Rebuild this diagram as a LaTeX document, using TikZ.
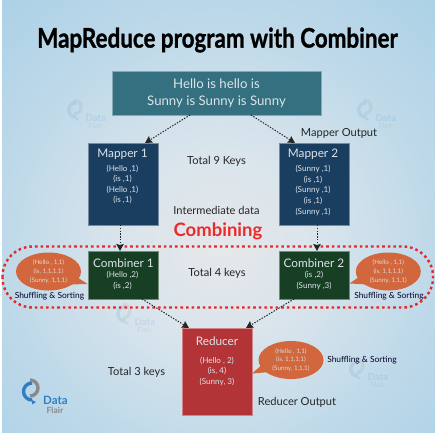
\documentclass[tikz,border=0pt]{standalone}
\usepackage{fontspec}
\setmainfont{Lato}
\newfontfamily\titlefont[FakeBold=1.2]{Lato}
\usetikzlibrary{calc,arrows.meta,shapes.geometric}
\definecolor{bgwhite}{HTML}{FDFEFE}
\definecolor{topbox}{HTML}{34707F}
\definecolor{mapbox}{HTML}{1A3E60}
\definecolor{combox}{HTML}{173F24}
\definecolor{redbox}{HTML}{B23437}
\definecolor{bubble}{HTML}{D2663D}
\definecolor{dotred}{HTML}{E8262A}
\definecolor{headred}{HTML}{EC2A2A}
\definecolor{boxtext}{HTML}{DCE4EA}
\definecolor{logoblue}{HTML}{2F7FC4}
\definecolor{logogray}{HTML}{8A8A8A}
\definecolor{bga}{HTML}{E6E8EA}
\definecolor{bgb}{HTML}{D8E4EC}
\definecolor{bgc}{HTML}{BED9E9}
\definecolor{bgd}{HTML}{A8CFE6}
\definecolor{bge}{HTML}{9DC8E3}
\pgfdeclareradialshading{bgshade}{\pgfpoint{0bp}{-4bp}}{%
 color(0bp)=(bga);
 color(12bp)=(bgb);
 color(25bp)=(bgc);
 color(40bp)=(bgd);
 color(60bp)=(bge);
 color(100bp)=(bge)}
\tikzset{
  x=1pt,y=-1pt,
  panel/.style={draw=white!40!#1,line width=.6pt,fill=#1,inner sep=0pt,outer sep=0pt},
  boxname/.style={text=boxtext,align=center,inner sep=0pt,font=\fontsize{11.8}{15}\selectfont},
  boxbody/.style={text=boxtext,align=center,inner sep=0pt,font=\fontsize{8.1}{10.6}\selectfont},
  note/.style={text=black!85,inner sep=0pt,font=\fontsize{11.1}{14}\selectfont},
  shuffle/.style={text=black!85!blue,inner sep=0pt,font=\fontsize{8.4}{11}\selectfont},
  bub/.style={ellipse,fill=bubble,inner sep=0pt,minimum width=65pt,minimum height=38pt,text=boxtext!90!orange,align=center,font=\fontsize{6.3}{8.7}\selectfont},
  conn/.style={dash pattern=on 1.4pt off 1.4pt,line width=1pt,black!85,-{Stealth[length=7pt,width=7.5pt,inset=1pt]}},
  logotext/.style={anchor=west,inner sep=0pt,transform shape,text=#1},
}
\newcommand{\dflogo}[4]{%
 \begin{scope}[shift={(#1,#2)},scale=#3,opacity=#4]
  \draw[logoblue,line width=3.4pt] (0,-8) arc[start angle=90,end angle=270,radius=8.5];
  \fill[logoblue] (0,-8) -- (4,-6) -- (0,-3.5) -- cycle;
  \draw[logogray,line width=3.4pt] (-2,-12) arc[start angle=90,end angle=-90,radius=8];
  \node[logotext=logoblue,font=\bfseries\fontsize{11.5}{12}\selectfont] at (11,-7.5) {Data};
  \node[logotext=logogray,font=\bfseries\fontsize{8.5}{9}\selectfont] at (14.5,2) {Flair};
 \end{scope}}
\begin{document}
\begin{tikzpicture}
\useasboundingbox (0,0) rectangle (435,432);
\fill[bgwhite] (0,0) rectangle (435,432);
\fill[shading=bgshade] (2,0) rectangle (435,432);
\dflogo{76}{124}{.85}{.12}
\dflogo{366}{124}{.85}{.12}
\dflogo{125}{328}{.85}{.12}
\dflogo{358}{383}{.85}{.12}
\dflogo{32}{408}{1}{1}

% dotted frame
\draw[dotred,line width=2.4pt,dash pattern=on 2.6pt off 3pt,rounded corners=30pt] (2.5,246.5) rectangle (433,307.5);

% title
\node[inner sep=0pt,xscale=.83,text=black,font=\titlefont\bfseries\fontsize{27}{28}\selectfont] (head) at (217.5,40) {MapReduce program with Combiner};

% boxes
\node[panel=topbox,minimum width=209pt,minimum height=44pt] (src) at (216.5,93) {};
\node[text=boxtext,align=center,inner sep=0pt,font=\fontsize{13.2}{17}\selectfont] (srct) at (216.5,93.5) {Hello is hello is\\Sunny is Sunny is Sunny};
\node[panel=mapbox,minimum width=70pt,minimum height=82pt] (m1) at (123,184) {};
\node[panel=mapbox,minimum width=70pt,minimum height=82pt] (m2) at (314,184) {};
\node[panel=combox,minimum width=70pt,minimum height=48pt] (c1) at (123,275) {};
\node[panel=combox,minimum width=70pt,minimum height=48pt] (c2) at (314,275) {};
\node[panel=redbox,minimum width=70pt,minimum height=87pt] (r) at (217,371.5) {};

% box texts
\node[boxname] (m1n) at (122.5,154.5) {Mapper 1};
\node[boxname] (m2n) at (313,154.5) {Mapper 2};
\node[boxbody] (m1b) at (122.5,184.5) {(Hello ,1)\\(is ,1)\\(Hello ,1)\\(is ,1)};
\node[boxbody] (m2b) at (313,190.5) {(Sunny ,1)\\(is ,1)\\(Sunny ,1)\\(is ,1)\\(Sunny ,1)};
\node[boxname] (c1n) at (123.5,263) {Combiner 1};
\node[boxbody] (c1b) at (122.5,280.5) {(Hello ,2)\\(is ,2)};
\node[boxname] (c2n) at (314,263) {Combiner 2};
\node[boxbody] (c2b) at (314,280.5) {(is ,2)\\(Sunny ,3)};
\node[boxname] (rn) at (217,341.5) {Reducer};
\node[boxbody] (rb) at (217,371.5) {(Hello , 2)\\(is, 4)\\(Sunny, 3)};

% bubbles
\node[bub] (b1) at (48.5,271.5) {(Hello , 1,1)\\(is, 1,1,1,1)\\(Sunny, 1,1,1)};
\node[bub] (b2) at (388.3,271.5) {(Hello , 1,1)\\(is, 1,1,1,1)\\(Sunny, 1,1,1)};
\node[bub] (b3) at (291,360) {(Hello , 1,1)\\(is, 1,1,1,1)\\(Sunny, 1,1,1)};
\coordinate (t1) at (87.5,284);
\coordinate (t2) at (349.5,283.5);
\coordinate (t3) at (252,373.5);
\fill[bubble] (t1) -- ($(b1.center)+(26,4)$) -- ($(b1.center)+(20,13)$) -- cycle;
\fill[bubble] (t2) -- ($(b2.center)+(-26,3)$) -- ($(b2.center)+(-20,13)$) -- cycle;
\fill[bubble] (t3) -- ($(b3.center)+(-27,3)$) -- ($(b3.center)+(-21,12)$) -- cycle;

% labels
\node[note] (l1) at (339,133) {Mapper Output};
\node[note] (l2) at (216.5,161) {Total 9 Keys};
\node[note] (l3) at (216.5,210) {Intermediate data};
\node[inner sep=0pt,text=headred,font=\bfseries\fontsize{18.5}{20}\selectfont] (l4) at (218,231) {Combining};
\node[note] (l5) at (217,273) {Total 4 keys};
\node[note] (l6) at (136.5,372) {Total 3 keys};
\node[note] (l7) at (297,402) {Reducer Output};
\node[shuffle] (s1) at (49.5,296) {Shuffling \& Sorting};
\node[shuffle] (s2) at (389,296) {Shuffling \& Sorting};
\node[shuffle] (s3) at (362,360) {Shuffling \& Sorting};

% connectors
\draw[conn] ($(src.south west)+(78,0)$) -- ($(m1.north west)+(57,0)$);
\draw[conn] ($(src.south west)+(139,0)$) -- ($(m2.north west)+(16,0)$);
\draw[conn] ($(m1.south west)+(32,0)$) -- ($(c1.north west)+(32,0)$);
\draw[conn] ($(m2.south west)+(38,0)$) -- ($(c2.north west)+(38,0)$);
\draw[conn] ($(c1.south west)+(54,0)$) -- ($(r.north west)+(7,0)$);
\draw[conn] ($(c2.south west)+(15,0)$) -- ($(r.north east)+(-6,0)$);
\end{tikzpicture}
\end{document}
